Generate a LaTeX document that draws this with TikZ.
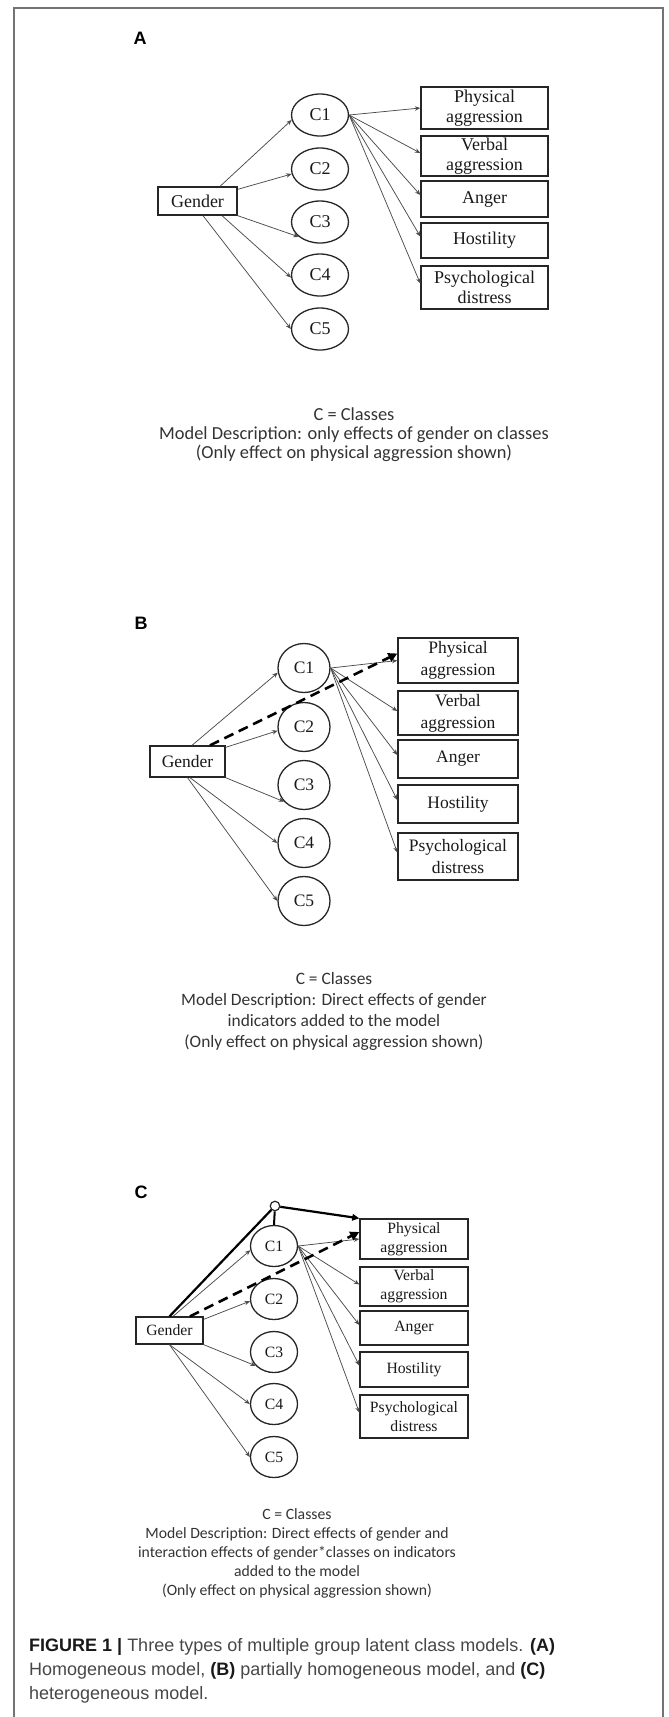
\documentclass[tikz,border=0pt]{standalone}
\usepackage{fontspec}
\setmainfont{Liberation Serif}
\newfontfamily\calfont{Carlito}
\newfontfamily\arialfont{Liberation Sans}
\usetikzlibrary{arrows.meta,shapes.geometric,calc}
\newcommand\fszA{\fontsize{18}{20}\selectfont}
\newcommand\fszB{\fontsize{17.5}{22}\selectfont}
\newcommand\fszC{\fontsize{15.7}{19}\selectfont}
\tikzset{
  frameline/.style={draw=black!55, line width=1.4pt},
  panellab/.style={font=\arialfont\bfseries\fontsize{18}{20}\selectfont, inner sep=0pt},
  cls/.style={ellipse, draw=black!85, line width=1.3pt, inner sep=0pt, text=black!90},
  gbox/.style={rectangle, draw=black!85, line width=1.3pt, inner sep=0pt, text=black!90},
  ibox/.style={rectangle, draw=black!85, line width=1.4pt, inner sep=0pt, align=center, text=black!90},
  thinarrow/.style={draw=black!70, line width=0.75pt, -{Stealth[length=5.5pt,width=4.5pt]}},
  dasharrow/.style={draw=black, line width=2.6pt, dash pattern=on 10pt off 6pt, -{Triangle[length=9pt,width=9pt]}},
  thickline/.style={draw=black, line width=2.2pt},
  thickarrow/.style={draw=black, line width=2.2pt, -{Triangle[length=7pt,width=6.5pt]}},
  capnode/.style={align=center, inner sep=0pt, text=black!80},
  panelA/.style={font=\fszA},
  panelB/.style={font=\fszB},
  panelC/.style={font=\fszC},
}
\begin{document}
\begin{tikzpicture}[x=1pt,y=-1pt]
\useasboundingbox (0,0) rectangle (669,1717);
\draw[frameline] (14,1725) -- (14,8) -- (663,8) -- (663,1725);

% ---------------- Panel A ----------------
\node[panellab] (labA) at (140,38.5) {A};
\begin{scope}[every node/.append style={panelA}]
\node[cls, minimum width=57pt, minimum height=42pt] (a1) at (320,115) {C1};
\node[cls, minimum width=57pt, minimum height=42pt] (a2) at (320,169) {C2};
\node[cls, minimum width=57pt, minimum height=42pt] (a3) at (320,222) {C3};
\node[cls, minimum width=57pt, minimum height=42pt] (a4) at (320,275) {C4};
\node[cls, minimum width=57pt, minimum height=42pt] (a5) at (320,329) {C5};
\node[gbox, minimum width=79pt, minimum height=28pt] (ag) at (197.5,201) {Gender};
\node[ibox, minimum width=127pt, minimum height=42pt] (ap) at (484.5,108) {Physical\\aggression};
\node[ibox, minimum width=127pt, minimum height=40pt] (av) at (484.5,156) {Verbal\\aggression};
\node[ibox, minimum width=127pt, minimum height=36pt] (aa) at (484.5,199) {Anger};
\node[ibox, minimum width=127pt, minimum height=35pt] (ah) at (484.5,240.5) {Hostility};
\node[ibox, minimum width=127pt, minimum height=43pt] (ad) at (484.5,287.5) {Psychological\\distress};
\end{scope}
\draw[thinarrow] ($(ag.north)+(22.5,0)$) -- (a1.190);
\draw[thinarrow] ($(ag.north east)+(0,3)$) -- (a2.190);
\draw[thinarrow] (ag.south east) -- (a3.215);
\draw[thinarrow] ($(ag.south)+(24.5,0)$) -- (a4.185);
\draw[thinarrow] ($(ag.south)+(5.5,0)$) -- (a5.180);
\draw[thinarrow] (a1.east) -- (ap.west);
\draw[thinarrow] (a1.east) -- ($(av.west)+(0,-3)$);
\draw[thinarrow] (a1.east) -- ($(aa.west)+(0,-4)$);
\draw[thinarrow] (a1.east) -- ($(ah.west)+(0,-4)$);
\draw[thinarrow] (a1.east) -- ($(ad.west)+(0,-4)$);
\node[capnode, font=\calfont\fontsize{18.4}{19}\selectfont] (capA) at (354,435)
  {C = Classes\\Model Description: only effects of gender on classes\\(Only effect on physical aggression shown)};

% ---------------- Panel B ----------------
\node[panellab] (labB) at (141,623) {B};
\begin{scope}[every node/.append style={panelB}]
\node[cls, minimum width=52pt, minimum height=49pt] (b1) at (304,668) {C1};
\node[cls, minimum width=52pt, minimum height=49pt] (b2) at (304,727) {C2};
\node[cls, minimum width=52pt, minimum height=49pt] (b3) at (304,785) {C3};
\node[cls, minimum width=52pt, minimum height=49pt] (b4) at (304,843) {C4};
\node[cls, minimum width=52pt, minimum height=49pt] (b5) at (304,901) {C5};
\node[gbox, minimum width=75pt, minimum height=31pt] (bg) at (187.5,761.5) {Gender};
\node[ibox, minimum width=120pt, minimum height=45pt] (bp) at (458,660.5) {Physical\\aggression};
\node[ibox, minimum width=120pt, minimum height=44pt] (bv) at (458,713) {Verbal\\aggression};
\node[ibox, minimum width=120pt, minimum height=38pt] (ba) at (458,759) {Anger};
\node[ibox, minimum width=120pt, minimum height=38pt] (bh) at (458,804) {Hostility};
\node[ibox, minimum width=120pt, minimum height=47pt] (bd) at (458,856.5) {Psychological\\distress};
\end{scope}
\draw[thinarrow] ($(bg.north)+(4.5,0)$) -- (b1.190);
\draw[thinarrow] ($(bg.north east)+(0,2)$) -- (b2.188);
\draw[thinarrow] (bg.south east) -- (b3.220);
\draw[thinarrow] ($(bg.south)+(2.5,0)$) -- (b4.180);
\draw[thinarrow] (bg.south) -- (b5.180);
\draw[thinarrow] (b1.east) -- (bp.west);
\draw[thinarrow] (b1.east) -- ($(bv.west)+(0,-2)$);
\draw[thinarrow] (b1.east) -- ($(ba.west)+(0,-4)$);
\draw[thinarrow] (b1.east) -- ($(bh.west)+(0,-4)$);
\draw[thinarrow] (b1.east) -- ($(bd.west)+(0,-4)$);
\draw[dasharrow] ($(bg.north)+(22.5,0)$) -- ($(bp.west)+(0,-7)$);
\node[capnode, font=\calfont\fontsize{17.4}{21}\selectfont] (capB) at (334,1011)
  {C = Classes\\Model Description: Direct effects of gender\\indicators added to the model\\(Only effect on physical aggression shown)};

% ---------------- Panel C ----------------
\node[panellab] (labC) at (141,1192) {C};
\begin{scope}[every node/.append style={panelC}]
\node[cls, minimum width=47pt, minimum height=41pt] (c1) at (274,1246) {C1};
\node[cls, minimum width=47pt, minimum height=41pt] (c2) at (274,1299) {C2};
\node[cls, minimum width=47pt, minimum height=41pt] (c3) at (274,1352) {C3};
\node[cls, minimum width=47pt, minimum height=41pt] (c4) at (274,1404) {C4};
\node[cls, minimum width=47pt, minimum height=41pt] (c5) at (274,1457) {C5};
\node[gbox, minimum width=67pt, minimum height=27pt] (cg) at (169.5,1330.5) {Gender};
\node[ibox, minimum width=108pt, minimum height=40pt] (cp) at (414,1239) {Physical\\aggression};
\node[ibox, minimum width=108pt, minimum height=39pt] (cv) at (414,1286.5) {Verbal\\aggression};
\node[ibox, minimum width=108pt, minimum height=34pt] (ca) at (414,1328) {Anger};
\node[ibox, minimum width=108pt, minimum height=35pt] (ch) at (414,1369.5) {Hostility};
\node[ibox, minimum width=108pt, minimum height=43pt] (cd) at (414,1416.5) {Psychological\\distress};
\end{scope}
\node[circle, draw=black!85, fill=white, line width=1.2pt, minimum size=9.5pt, inner sep=0pt] (cj) at (275,1206) {};
\draw[thinarrow] ($(cg.north)+(3.5,0)$) -- (c1.190);
\draw[thinarrow] ($(cg.north east)+(0,3)$) -- (c2.185);
\draw[thinarrow] (cg.south east) -- (c3.217);
\draw[thinarrow] (cg.south) -- (c4.180);
\draw[thinarrow] (cg.south) -- (c5.180);
\draw[thinarrow] (c1.east) -- (cp.west);
\draw[thinarrow] (c1.east) -- ($(cv.west)+(0,-2)$);
\draw[thinarrow] (c1.east) -- ($(ca.west)+(0,-3)$);
\draw[thinarrow] (c1.east) -- ($(ch.west)+(0,-4)$);
\draw[thinarrow] (c1.east) -- ($(cd.west)+(0,-4)$);
\draw[thickline] (cg.north) -- (cj);
\draw[thickarrow] (cj) -- (cp.north west);
\draw[draw=black, line width=2pt] (cj) -- (c1.north);
\draw[dasharrow] ($(cg.north)+(20.5,0)$) -- ($(cp.west)+(0,-7)$);
\node[capnode, font=\calfont\fontsize{15.7}{19}\selectfont] (capC) at (297,1553)
  {C = Classes\\Model Description: Direct effects of gender and\\interaction effects of gender*classes on indicators\\added to the model\\(Only effect on physical aggression shown)};

% ---------------- Figure caption ----------------
\node[anchor=north west, align=left, inner sep=0pt, text=black!72,
      font=\arialfont\fontsize{18}{24}\selectfont] (figcap) at (29,1638)
  {{\color{black!90}\bfseries FIGURE 1 |} Three types of multiple group latent class models. {\color{black!90}\bfseries (A)}\\
   Homogeneous model, {\color{black!90}\bfseries (B)} partially homogeneous model, and {\color{black!90}\bfseries (C)}\\
   heterogeneous model.};
\end{tikzpicture}
\end{document}
